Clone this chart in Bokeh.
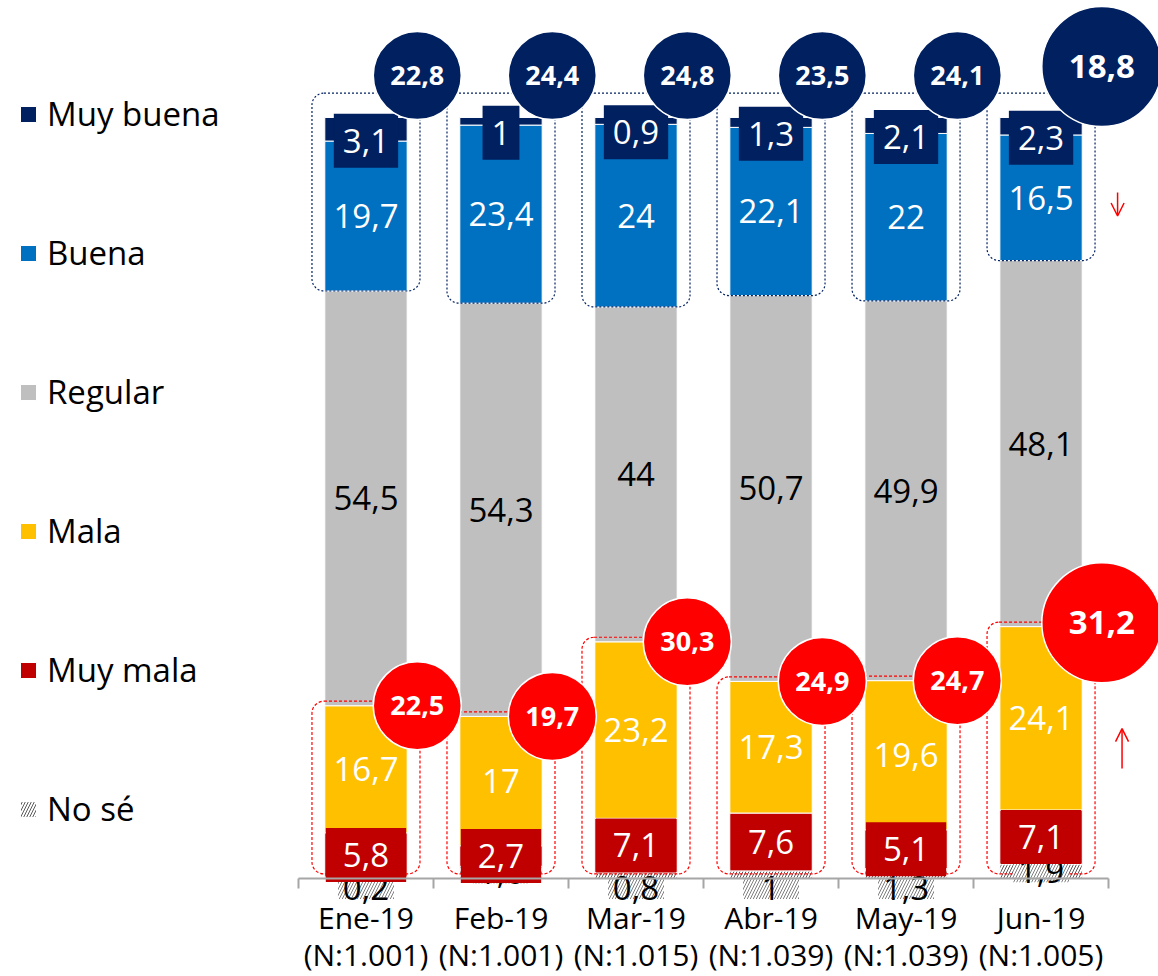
import numpy as np
from bokeh.plotting import figure
from bokeh.models import (Range1d, LinearAxis, FixedTicker, Legend, LegendItem,
                          Arrow, OpenHead, ColumnDataSource)
from bokeh.core.properties import value
from bokeh.embed import file_html
from bokeh.resources import INLINE

# ---------------- data ----------------
months = ["Ene-19", "Feb-19", "Mar-19", "Abr-19", "May-19", "Jun-19"]
sample_sizes = ["N:1.001", "N:1.001", "N:1.015", "N:1.039", "N:1.039", "N:1.005"]
no_se = [0.2, 1.6, 0.8, 1.0, 1.3, 1.9]
muy_mala = [5.8, 2.7, 7.1, 7.6, 5.1, 7.1]
mala = [16.7, 17.0, 23.2, 17.3, 19.6, 24.1]
regular = [54.5, 54.3, 44.0, 50.7, 49.9, 48.1]
buena = [19.7, 23.4, 24.0, 22.1, 22.0, 16.5]
muy_buena = [3.1, 1.0, 0.9, 1.3, 2.1, 2.3]
total_positivo = [22.8, 24.4, 24.8, 23.5, 24.1, 18.8]
total_negativo = [22.5, 19.7, 30.3, 24.9, 24.7, 31.2]

# ---------------- styles ----------------
NAVY = "#002060"
BLUE = "#0070C0"
GRAY = "#BFBFBF"
YELLOW = "#FFC000"
DARKRED = "#C00000"
RED = "#FF0000"
AXIS_GRAY = "#A6A6A6"
FONT = "Open Sans"
LABEL_PX = 33
BAR_W = 0.61


def fmt(v):
    return f"{v:g}".replace(".", ",")


def text_px(s):
    # approximate rendered width of a numeric label in the label font
    digits = sum(ch.isdigit() for ch in s)
    commas = s.count(",")
    return LABEL_PX * (0.572 * digits + 0.26 * commas)


n = len(months)
xc = np.arange(n) + 0.5

p = figure(frame_width=1158, frame_height=976,
           x_range=Range1d(-2.207, 6.370), y_range=Range1d(-12.878, 115.37),
           x_axis_type=None, y_axis_type=None,
           output_backend="svg", toolbar_location=None,
           min_border_left=0, min_border_right=0, min_border_top=0, min_border_bottom=0,
           outline_line_color=None, background_fill_color="white",
           border_fill_color="white")

layers = [
    ("No sé", no_se, "white"),
    ("Muy mala", muy_mala, DARKRED),
    ("Mala", mala, YELLOW),
    ("Regular", regular, GRAY),
    ("Buena", buena, BLUE),
    ("Muy buena", muy_buena, NAVY),
]

bottom = np.zeros(n)
renderers = {}
spans = {}
for name, vals, color in layers:
    vals = np.array(vals, dtype=float)
    top = bottom + vals
    kw = {}
    if name == "No sé":
        kw = dict(hatch_pattern="/", hatch_color="#595959", hatch_scale=6, hatch_weight=1)
    r = p.vbar(x=xc, bottom=bottom, top=top, width=BAR_W, fill_color=color,
               line_color="white", line_width=1, **kw)
    renderers[name] = r
    spans[name] = (bottom.copy(), top.copy())
    bottom = top

# dashed groupings
reg_top = spans["Regular"][1]
bar_top = spans["Muy buena"][1]
mala_top = spans["Mala"][1]
p.quad(left=xc - 0.4, right=xc + 0.4, bottom=reg_top, top=bar_top + 3.2,
       fill_color=None, line_color=NAVY, line_dash="2 2", line_width=1.2, border_radius=12)
p.quad(left=xc - 0.4, right=xc + 0.4, bottom=np.full(n, 0.6), top=mala_top + 0.6,
       fill_color=None, line_color=RED, line_dash="3 2", line_width=1.2, border_radius=12)


def mid(name):
    b, t = spans[name]
    return (b + t) / 2


text_common = dict(text_font=value(FONT), text_font_size=f"{LABEL_PX}px",
                   text_align="center", text_baseline="middle")

# No sé labels with hatched background
ns_vals = np.array(no_se)
ns_y = np.where(ns_vals >= 1.5, mid("No sé"), -1.25)
p.rect(x=xc, y=ns_y, width=56, height=22, width_units="screen", height_units="screen",
       fill_color="white", line_color=None, hatch_pattern="/", hatch_color="#7F7F7F",
       hatch_scale=6, hatch_weight=1)
p.text(x=xc, y=ns_y, text=[fmt(v) for v in no_se], text_color="black", **text_common)

# Muy mala labels (red boxes)
mm_txt = [fmt(v) for v in muy_mala]
p.rect(x=xc, y=mid("Muy mala"), width=[text_px(s) + 34 for s in mm_txt], height=54,
       width_units="screen", height_units="screen", fill_color=DARKRED, line_color=None)
p.text(x=xc, y=mid("Muy mala"), text=mm_txt, text_color="white", **text_common)
# Mala, Regular, Buena
p.text(x=xc, y=mid("Mala"), text=[fmt(v) for v in mala], text_color="white", **text_common)
p.text(x=xc, y=mid("Regular"), text=[fmt(v) for v in regular], text_color="black", **text_common)
p.text(x=xc, y=mid("Buena"), text=[fmt(v) for v in buena], text_color="white", **text_common)
# Muy buena labels (navy boxes)
mb_txt = [fmt(v) for v in muy_buena]
mb_y = mid("Muy buena") - 1.5
p.rect(x=xc, y=mb_y, width=[text_px(s) + 18 for s in mb_txt], height=54,
       width_units="screen", height_units="screen", fill_color=NAVY, line_color=None)
p.text(x=xc, y=mb_y, text=mb_txt, text_color="white", **text_common)

# summary bubbles
is_last = np.arange(n) == n - 1
bx = xc + np.where(is_last, 0.45, 0.38)
sizes = np.where(is_last, 120, 88)
fsz = ["33px" if l else "27px" for l in is_last]

pos_src = ColumnDataSource(dict(x=bx, y=np.where(is_last, 106.7, 105.5), s=sizes,
                                t=[fmt(v) for v in total_positivo], fs=fsz))
neg_src = ColumnDataSource(dict(x=bx, y=mala_top + np.where(is_last, 0.5, 0.0), s=sizes,
                                t=[fmt(v) for v in total_negativo], fs=fsz))
for src, col in ((pos_src, NAVY), (neg_src, RED)):
    p.scatter(x="x", y="y", size="s", marker="circle", fill_color=col,
              line_color="white", line_width=1.5, source=src)
    p.text(x="x", y="y", text="t", text_font_size="fs", text_font=value(FONT),
           text_font_style="bold", text_color="white", text_align="center",
           text_baseline="middle", source=src)

# trend arrows for the last month
buena_mid_last = mid("Buena")[-1]
mala_mid_last = mid("Mala")[-1]
p.add_layout(Arrow(x_start=n + 0.067, y_start=buena_mid_last + 0.7,
                   x_end=n + 0.067, y_end=buena_mid_last - 2.4,
                   end=OpenHead(size=13, line_color=RED, line_width=1.5),
                   line_color=RED, line_width=1.5))
p.add_layout(Arrow(x_start=n + 0.1, y_start=mala_mid_last - 6.6,
                   x_end=n + 0.1, y_end=mala_mid_last - 1.35,
                   end=OpenHead(size=13, line_color=RED, line_width=1.5),
                   line_color=RED, line_width=1.5))

# legend
legend_order = ["Muy buena", "Buena", "Regular", "Mala", "Muy mala", "No sé"]
legend = Legend(items=[LegendItem(label=name, renderers=[renderers[name]]) for name in legend_order],
                location=(18, 145), orientation="vertical", spacing=94,
                glyph_width=20, glyph_height=20, label_standoff=9,
                label_text_font=FONT, label_text_font_size="33px", label_text_color="black",
                padding=0, margin=0, border_line_color=None, background_fill_alpha=0)
p.add_layout(legend)

# x axis drawn at the baseline, with separators as minor ticks
overrides = {float(x): f"{m}\n({s})" for x, m, s in zip(xc, months, sample_sizes)}
xaxis = LinearAxis(fixed_location=0, bounds=(0, n),
                   ticker=FixedTicker(ticks=[float(x) for x in xc],
                                      minor_ticks=[float(e) for e in range(n + 1)]),
                   major_label_overrides=overrides,
                   axis_line_color=AXIS_GRAY, axis_line_width=2,
                   major_tick_line_color=None, major_tick_in=0, major_tick_out=0,
                   minor_tick_line_color=AXIS_GRAY, minor_tick_line_width=2,
                   minor_tick_in=0, minor_tick_out=10,
                   major_label_standoff=9, major_label_text_font=FONT,
                   major_label_text_font_size="30px", major_label_text_line_height=0.9,
                   major_label_text_color="black")
p.add_layout(xaxis, "below")

open("out.html", "w").write(file_html(p, INLINE))
